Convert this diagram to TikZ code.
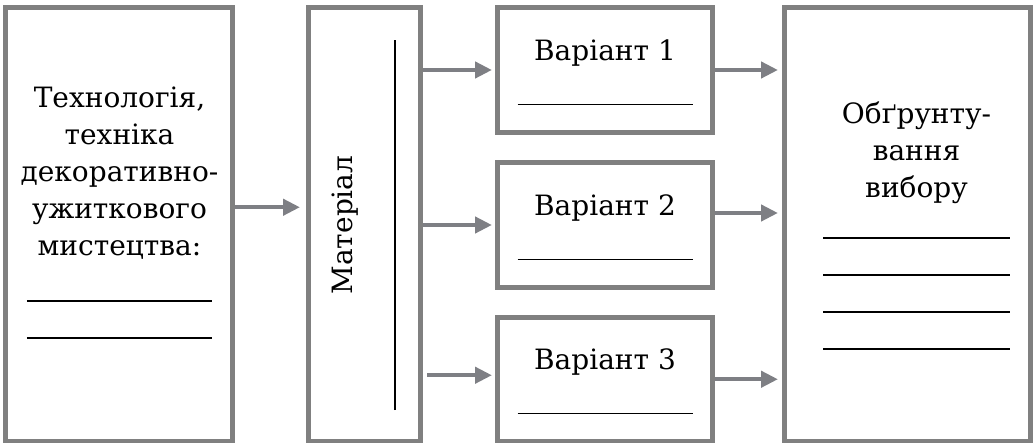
\documentclass[tikz,border=0pt]{standalone}
\usepackage{fontspec}
\setmainfont{DejaVu Serif}
\usepackage{xcolor}
\usetikzlibrary{arrows.meta,positioning}
\definecolor{boxgray}{RGB}{128,128,128}
\definecolor{arrgray}{RGB}{126,127,132}
\newcommand{\fillline}[2][-9pt]{\rule[#1]{#2}{1.6pt}}

\begin{document}
\begin{tikzpicture}[
  x=1pt, y=-1pt,
  font=\fontsize{28}{37}\selectfont,
  panel/.style={draw=boxgray, line width=5pt, inner sep=0pt, fill=white},
  txt/.style={align=center, inner sep=0pt},
  arr/.style={draw=arrgray, line width=4.5pt, -{Triangle[length=17pt, width=16pt]}}
]
\useasboundingbox (0,0) rectangle (1036,443);

% frames
\node[panel, minimum width=227pt, minimum height=433.5pt] (tech) at (119,224.25) {};
\node[panel, minimum width=112pt, minimum height=433.5pt] (mat) at (364.5,224.25) {};
\node[panel, minimum width=215pt, minimum height=125pt] (var1) at (605,70) {};
\node[panel, minimum width=215pt, minimum height=125pt] (var2) at (605,225) {};
\node[panel, minimum width=215pt, minimum height=123.5pt] (var3) at (605,379.25) {};
\node[panel, minimum width=246pt, minimum height=433.5pt] (just) at (907.5,224.25) {};

% texts
\node[txt, anchor=north] (techtxt) at (119.5,87)
  {Технологія,\\техніка\\декоративно-\\ужиткового\\мистецтва:\\\fillline{185pt}\\\fillline{185pt}};
\node[txt, rotate=90, anchor=base] (mattxt) at (352,225) {Матеріал};
\node[txt, rotate=90] (matline) at (395,225) {\rule{370pt}{1.5pt}};
\node[txt, anchor=north] (var1txt) at (605,40) {Варіант 1\\\fillline[-7.5pt]{175pt}};
\node[txt, anchor=north] (var2txt) at (605,195) {Варіант 2\\\fillline[-7.5pt]{175pt}};
\node[txt, anchor=north] (var3txt) at (605,349) {Варіант 3\\\fillline[-7.5pt]{175pt}};
\node[txt, anchor=north] (justtxt) at (916.5,102)
  {Обґрунту-\\вання\\вибору\\\fillline[-4pt]{187pt}\\\fillline[-4pt]{187pt}\\\fillline[-4pt]{187pt}\\\fillline[-4pt]{187pt}};

% arrows
\draw[arr, shorten >=6pt] ([yshift=17pt]tech.east) -- ([yshift=17pt]mat.west);
\draw[arr, shorten >=3pt] (mat.east |- var1.west) -- (var1.west);
\draw[arr, shorten >=3pt] (mat.east |- var2.west) -- (var2.west);
\draw[arr, shorten >=3pt, shorten <=4pt] ([yshift=4pt]mat.east |- var3.west) -- ([yshift=4pt]var3.west);
\draw[arr, shorten >=4pt] (var1.east) -- (just.west |- var1.east);
\draw[arr, shorten >=4pt] ([yshift=12pt]var2.east) -- ([yshift=12pt]just.west |- var2.east);
\draw[arr, shorten >=4pt] (var3.east) -- (just.west |- var3.east);
\end{tikzpicture}
\end{document}
